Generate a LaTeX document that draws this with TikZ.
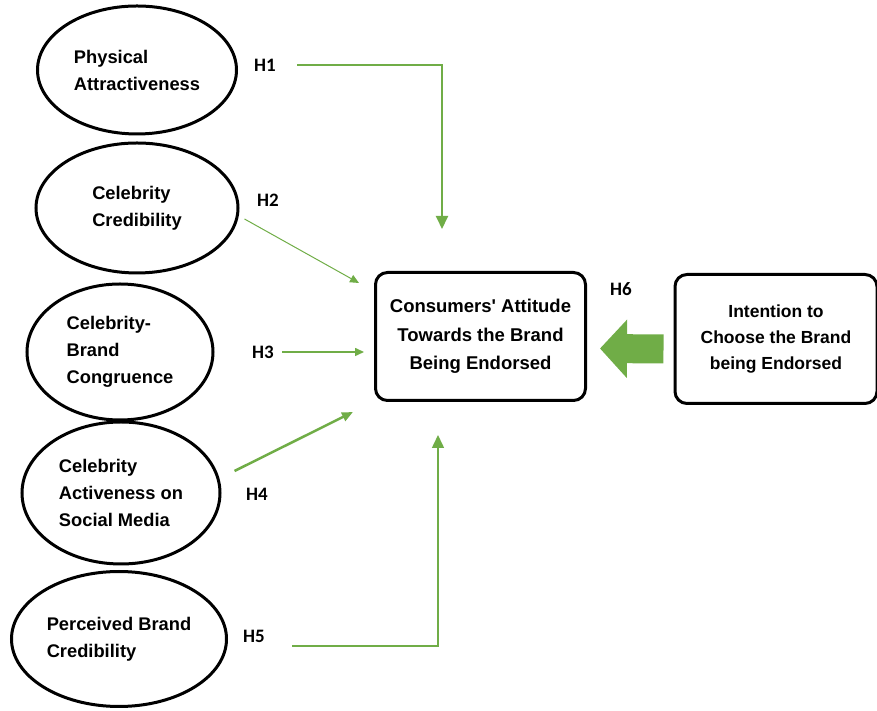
\documentclass[tikz,border=0pt]{standalone}
\usepackage{fontspec}
\setmainfont{Liberation Sans}
\newfontfamily\hypfont{Carlito}
\usetikzlibrary{shapes,arrows.meta,positioning}
\definecolor{linkgreen}{RGB}{112,173,71}
\tikzset{
    x = 1pt, y = 1pt,
    factor/.style = { draw, ellipse, line width = 3pt, align=left,
        inner sep = 0pt,
        font = \fontsize{18.3}{27}\selectfont\bfseries
    },
    outcome/.style = { draw, rectangle, line width = 3pt, align=center,
        rounded corners = 12pt,
        font = \fontsize{18.5}{28.5}\selectfont\bfseries
    },
    hyp/.style = { inner sep = 0pt,
        font = \hypfont\fontsize{19}{22}\selectfont\bfseries
    },
    link/.style = { draw = linkgreen, line width = 1.5pt,
        -{Triangle[length=9pt, width=8pt]}
    },
    biglink/.style = { link, line width = 2pt,
        -{Triangle[length=13pt, width=12pt]}
    },
    blockarrow/.style = { draw = linkgreen, line width = 29pt,
        -{Triangle[length=27pt, width=57pt]}
    }
}
\begin{document}
\begin{tikzpicture}
    \useasboundingbox (0,0) rectangle (877,711);

    % factors...
    \node (phys)   at (137,641) [factor, minimum width=199, minimum height=128] {Physical\\Attractiveness};
    \node (cred)   at (137,503) [factor, minimum width=202, minimum height=130] {Celebrity\\Credibility};
    \node (congr)  at (120,359) [factor, minimum width=186, minimum height=136] {Celebrity-\\Brand\\Congruence};
    \node (active) at (121,218) [factor, minimum width=198, minimum height=142] {Celebrity\\Activeness on\\Social Media};
    \node (brand)  at (119,72)  [factor, minimum width=215, minimum height=135] {Perceived Brand\\Credibility};

    % outcomes...
    \node (attitude) at (480.5,374.5) [outcome, minimum width=210, minimum height=128] {Consumers\textquotesingle{} Attitude\\Towards the Brand\\Being Endorsed};
    \node (intent)   at (776,372) [outcome, minimum width=202, minimum height=129,
        font=\fontsize{17.5}{26}\selectfont\bfseries] {Intention to\\Choose the Brand\\being Endorsed};

    % hypotheses...
    \node (h1) at (265,646) [hyp] {H1};
    \node (h2) at (268,511) [hyp] {H2};
    \node (h3) at (263,359) [hyp] {H3};
    \node (h4) at (257,217) [hyp] {H4};
    \node (h5) at (254,75)  [hyp] {H5};
    \node (h6) at (621,422) [hyp] {H6};

    % arrow ends...
    \coordinate (a1) at (442,482);
    \coordinate (a2) at (359,428);
    \coordinate (a3) at (364,359);
    \coordinate (a4) at (353,299);
    \coordinate (a5) at (438,276);

    \draw[biglink, shorten <=21pt] (h1.east) -| (a1);
    \draw[link, line width=1pt] ([shift={(5,-11)}]cred.east) -- (a2);
    \draw[link, shorten <=8pt] (h3.east) -- (a3);
    \draw[link, line width=2.5pt, -{Triangle[length=11pt, width=9pt]}] ([shift={(13,22)}]active.east) -- (a4);
    \draw[biglink, line width=1.5pt, shorten <=27pt] ([yshift=-10pt]h5.east) -| (a5);
    \draw[blockarrow] ([shift={(-10,-10)}]intent.west) -- ([shift={(13,-12)}]attitude.east);
\end{tikzpicture}
\end{document}
